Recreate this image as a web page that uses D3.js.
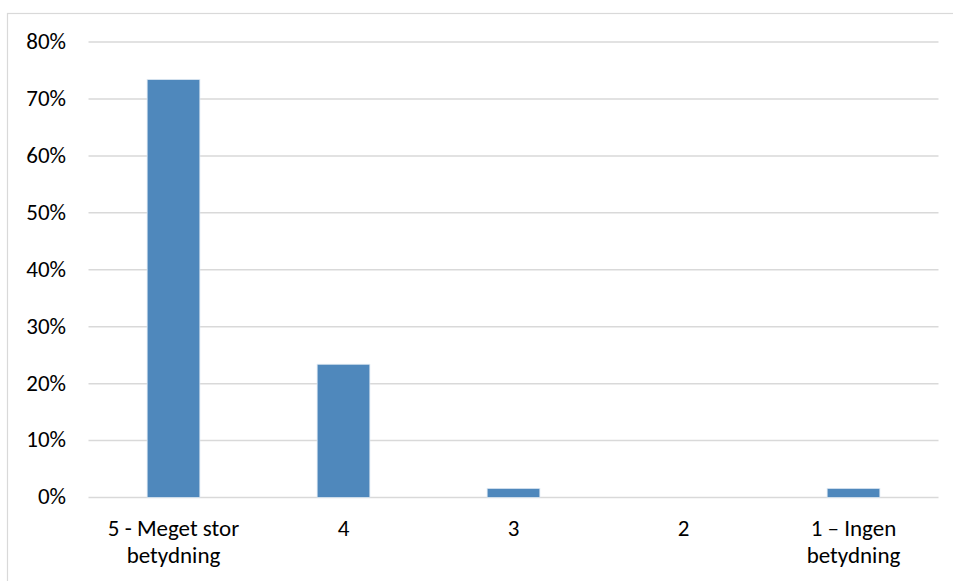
<!DOCTYPE html>
<html>
<head>
<meta charset="utf-8">
<script src="https://cdn.jsdelivr.net/npm/d3@7"></script>
<style>
  html, body { margin: 0; padding: 0; background: #fff; }
  svg text { font-family: Calibri, Carlito, Lato, sans-serif; fill: #000; }
</style>
</head>
<body>
<svg id="chart" width="953" height="581"></svg>
<script>
// Response categories (two-line labels split on "\n")
const categories = ["5 - Meget stor\nbetydning", "4", "3", "2", "1 \u2013 Ingen\nbetydning"];
// Share of respondents per category, in percent
const values = [73.4, 23.4, 1.6, 0, 1.6];
// Y-axis tick values, in percent
const yTicks = [0, 10, 20, 30, 40, 50, 60, 70, 80];

const svg = d3.select("#chart");
const W = 953, H = 581;
const margin = { left: 88.5, right: 14.5, top: 42, bottom: 83.5 };
const fontSize = 23;

// Chart frame
svg.append("rect")
  .attr("x", 7.5).attr("y", 13.5)
  .attr("width", W).attr("height", H)
  .attr("fill", "none")
  .attr("stroke", "#d9d9d9")
  .attr("stroke-width", 1.2);

const x = d3.scaleBand()
  .domain(categories)
  .range([margin.left, W - margin.right])
  .paddingInner(0.69)
  .paddingOuter(0.345);

const y = d3.scaleLinear()
  .domain([0, 80])
  .range([H - margin.bottom, margin.top]);

// Horizontal gridlines
svg.append("g")
  .selectAll("line")
  .data(yTicks)
  .join("line")
  .attr("x1", margin.left)
  .attr("x2", W - margin.right)
  .attr("y1", d => y(d))
  .attr("y2", d => y(d))
  .attr("stroke", "#d9d9d9")
  .attr("stroke-width", 1.5);

// Y tick labels
svg.append("g")
  .selectAll("text")
  .data(yTicks)
  .join("text")
  .attr("x", 66)
  .attr("y", d => y(d))
  .attr("dy", "0.3em")
  .attr("text-anchor", "end")
  .attr("font-size", fontSize)
  .text(d => d + "%");

// Bars
svg.append("g")
  .selectAll("rect")
  .data(values.map((v, i) => ({ cat: categories[i], v })))
  .join("rect")
  .attr("x", d => x(d.cat))
  .attr("width", x.bandwidth())
  .attr("y", d => y(d.v))
  .attr("height", d => y(0) - y(d.v))
  .attr("fill", "#4f88bc")
  .attr("stroke", "#dbe6f1")
  .attr("stroke-width", 0.8);

// Category labels
const catG = svg.append("g");
categories.forEach(c => {
  const cx = x(c) + x.bandwidth() / 2;
  const t = catG.append("text")
    .attr("x", cx)
    .attr("y", 536)
    .attr("text-anchor", "middle")
    .attr("font-size", fontSize);
  c.split("\n").forEach((line, i) => {
    t.append("tspan")
      .attr("x", cx)
      .attr("dy", i === 0 ? 0 : 27)
      .text(line);
  });
});
</script>
</body>
</html>
